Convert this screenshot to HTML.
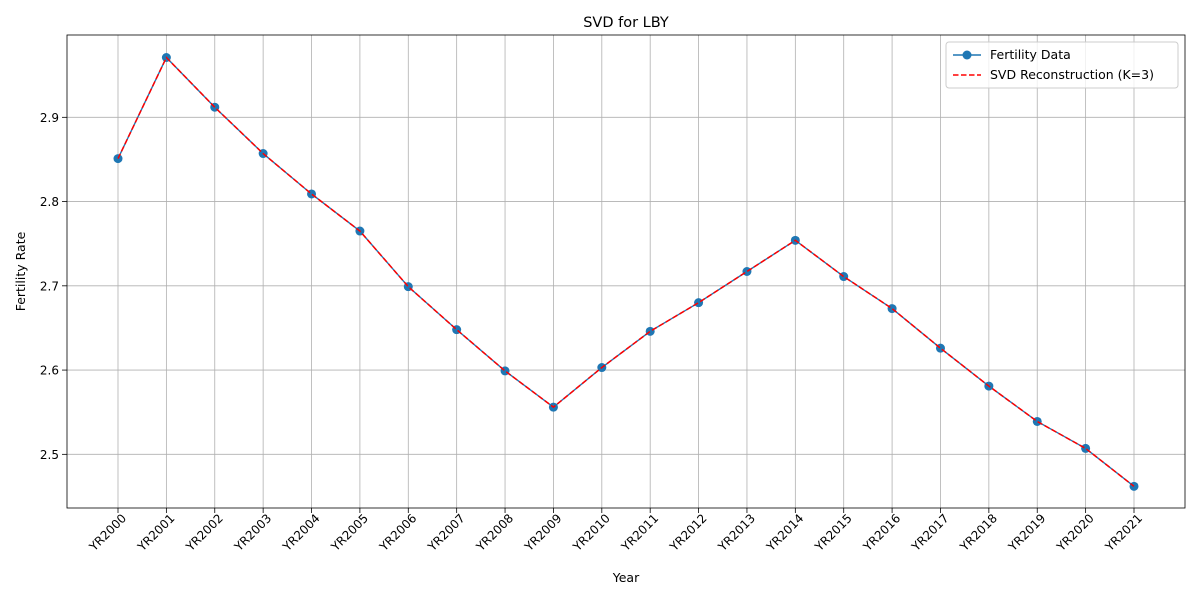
<!DOCTYPE html>
<html><head><meta charset="utf-8"><style>
body{margin:0;background:#fff;font-family:"Liberation Sans","DejaVu Sans",sans-serif;}
svg text{font-family:"DejaVu Sans","Liberation Sans",sans-serif;fill:#000;}
</style></head><body>
<svg id="chart" width="1200" height="600"></svg>
<script>
const categories=["YR2000","YR2001","YR2002","YR2003","YR2004","YR2005","YR2006","YR2007","YR2008","YR2009","YR2010","YR2011","YR2012","YR2013","YR2014","YR2015","YR2016","YR2017","YR2018","YR2019","YR2020","YR2021"];
const fertility=[2.851,2.971,2.912,2.857,2.809,2.765,2.699,2.648,2.599,2.556,2.603,2.646,2.680,2.717,2.754,2.711,2.673,2.626,2.581,2.539,2.507,2.462];
const reconstruction=[2.851,2.971,2.912,2.857,2.809,2.765,2.699,2.648,2.599,2.556,2.603,2.646,2.680,2.717,2.754,2.711,2.673,2.626,2.581,2.539,2.507,2.462];
const yTicks=[2.5,2.6,2.7,2.8,2.9];
const yTickLabels=["2.5","2.6","2.7","2.8","2.9"];

const NS="http://www.w3.org/2000/svg";
const svg=document.getElementById('chart');
const L=67,R=1185,T=35,B=508;
const yMin=2.4363,yMax=2.9977;
const xs=i=>118+i*(1134-118)/(categories.length-1);
const ys=v=>B-(v-yMin)/(yMax-yMin)*(B-T);
function el(tag,attrs,parent){const e=document.createElementNS(NS,tag);for(const k in attrs)e.setAttribute(k,attrs[k]);(parent||svg).appendChild(e);return e;}

const grid=el('g',{});


categories.forEach((c,i)=>{
  const x=xs(i);
  el('line',{x1:x,x2:x,y1:T,y2:B,stroke:'#b0b0b0','stroke-width':0.8},grid);
  el('line',{x1:x,x2:x,y1:B,y2:B+5,stroke:'#000','stroke-width':0.8});
  const t=el('text',{x:0,y:0,'font-size':12,'text-anchor':'end',transform:`translate(${x+9},${B+11}) rotate(-45)`});
  t.textContent=c;
  
  
});
yTicks.forEach((v,i)=>{
  const y=ys(v);
  el('line',{x1:L,x2:R,y1:y,y2:y,stroke:'#b0b0b0','stroke-width':0.8},grid);
  el('line',{x1:L-5,x2:L,y1:y,y2:y,stroke:'#000','stroke-width':0.8});
  const t=el('text',{x:L-8,y:y+4.5,'font-size':12,'text-anchor':'end'});
  t.textContent=yTickLabels[i];
  
  
});
const frame=el('rect',{x:L,y:T,width:R-L,height:B-T,fill:'none',stroke:'#000','stroke-width':0.8});



const dataPts=fertility.map((v,i)=>xs(i)+','+ys(v)).join(' ');
const dl=el('polyline',{points:dataPts,fill:'none',stroke:'#1f77b4','stroke-width':1.4});


fertility.forEach((v,i)=>{
  const c=el('circle',{cx:xs(i),cy:ys(v),r:4.5,fill:'#1f77b4'});
  
  
});
const rl=el('polyline',{points:reconstruction.map((v,i)=>xs(i)+','+ys(v)).join(' '),fill:'none',stroke:'#ff0000','stroke-width':1.5,'stroke-dasharray':'5.5,2.5'});



const title=el('text',{x:(L+R)/2,y:27,'font-size':14.5,'text-anchor':'middle'});
title.textContent='SVD for LBY';


const xt=el('text',{x:(L+R)/2,y:582,'font-size':12.5,'text-anchor':'middle'});
xt.textContent='Year';


const yt=el('text',{x:0,y:0,'font-size':12.5,'text-anchor':'middle',transform:`translate(25,${(T+B)/2}) rotate(-90)`});
yt.textContent='Fertility Rate';



const lg=el('g',{});


el('rect',{x:946,y:42,width:232,height:46,rx:3,fill:'#fff','fill-opacity':0.8,stroke:'#ccc'},lg);
el('line',{x1:953,x2:981,y1:55,y2:55,stroke:'#1f77b4','stroke-width':1.5},lg);
el('circle',{cx:967,cy:55,r:4.5,fill:'#1f77b4'},lg);
const l1=el('text',{x:990,y:59,'font-size':12.5},lg);
l1.textContent='Fertility Data';


el('line',{x1:953,x2:981,y1:75,y2:75,stroke:'#ff0000','stroke-width':1.5,'stroke-dasharray':'5.5,2.5'},lg);
const l2=el('text',{x:990,y:79,'font-size':12.5},lg);
l2.textContent='SVD Reconstruction (K=3)';


</script>
</body></html>
